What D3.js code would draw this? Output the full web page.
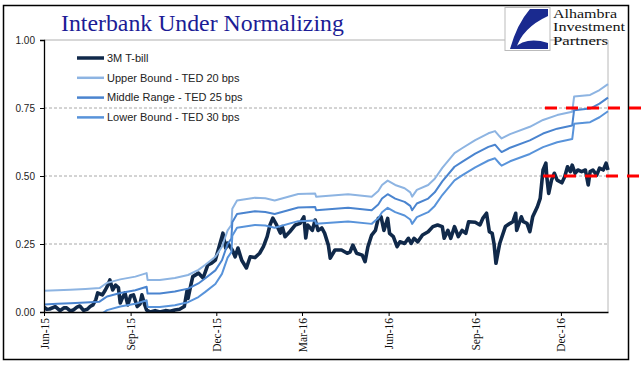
<!DOCTYPE html>
<html><head><meta charset="utf-8">
<script src="https://cdnjs.cloudflare.com/ajax/libs/d3/7.8.5/d3.min.js"></script>
<style>body{margin:0;background:#fff}svg{display:block}</style>
</head><body>
<script>
// ---- data ----
const boundDates = ["2015-06-01","2015-06-15","2015-06-29","2015-07-15","2015-07-30","2015-08-04","2015-08-07","2015-08-21","2015-09-06","2015-09-18","2015-09-19","2015-10-02","2015-10-18","2015-11-01","2015-11-12","2015-11-19","2015-11-30","2015-12-07","2015-12-13","2015-12-17","2015-12-18","2015-12-23","2016-01-11","2016-01-22","2016-02-01","2016-02-26","2016-03-15","2016-03-16","2016-04-19","2016-05-14","2016-05-18","2016-05-21","2016-05-25","2016-05-31","2016-06-08","2016-06-18","2016-06-24","2016-06-26","2016-07-01","2016-07-13","2016-07-20","2016-07-28","2016-08-10","2016-08-18","2016-09-01","2016-09-15","2016-09-22","2016-09-27","2016-09-29","2016-10-08","2016-10-29","2016-11-12","2016-11-27","2016-12-13","2016-12-15","2017-01-01","2017-01-11","2017-01-20"];
const upperBound = [0.078,0.080,0.082,0.085,0.088,0.100,0.107,0.120,0.130,0.143,0.118,0.118,0.125,0.136,0.155,0.173,0.203,0.240,0.300,0.320,0.380,0.410,0.420,0.418,0.410,0.434,0.436,0.424,0.433,0.424,0.436,0.445,0.467,0.483,0.467,0.455,0.440,0.424,0.449,0.467,0.490,0.530,0.584,0.602,0.632,0.657,0.665,0.645,0.638,0.654,0.681,0.706,0.724,0.736,0.792,0.798,0.816,0.838];
const middleRange = [0.028,0.030,0.032,0.035,0.038,0.050,0.057,0.070,0.080,0.093,0.068,0.068,0.075,0.086,0.105,0.123,0.153,0.190,0.250,0.270,0.330,0.360,0.370,0.368,0.360,0.384,0.386,0.374,0.383,0.374,0.386,0.395,0.417,0.433,0.417,0.405,0.390,0.374,0.399,0.417,0.440,0.480,0.534,0.552,0.582,0.607,0.615,0.595,0.588,0.604,0.631,0.656,0.674,0.686,0.742,0.748,0.766,0.788];
const lowerBound = [-0.022,-0.020,-0.018,-0.015,-0.012,0.000,0.007,0.020,0.030,0.043,0.018,0.018,0.025,0.036,0.055,0.073,0.103,0.140,0.200,0.220,0.280,0.310,0.320,0.318,0.310,0.334,0.336,0.324,0.333,0.324,0.336,0.345,0.367,0.383,0.367,0.355,0.340,0.324,0.349,0.367,0.390,0.430,0.484,0.502,0.532,0.557,0.565,0.545,0.538,0.554,0.581,0.606,0.624,0.636,0.692,0.698,0.716,0.738];

const tbillDates = ["2015-06-01","2015-06-04","2015-06-07","2015-06-13","2015-06-18","2015-06-22","2015-06-25","2015-06-29","2015-07-02","2015-07-06","2015-07-09","2015-07-13","2015-07-17","2015-07-20","2015-07-23","2015-07-26","2015-07-28","2015-08-02","2015-08-05","2015-08-07","2015-08-10","2015-08-13","2015-08-16","2015-08-19","2015-08-21","2015-08-23","2015-08-26","2015-08-29","2015-09-01","2015-09-04","2015-09-08","2015-09-11","2015-09-13","2015-09-16","2015-09-18","2015-09-22","2015-09-27","2015-10-02","2015-10-08","2015-10-13","2015-10-18","2015-10-23","2015-10-28","2015-10-31","2015-11-01","2015-11-04","2015-11-06","2015-11-12","2015-11-17","2015-11-22","2015-11-26","2015-11-30","2015-12-03","2015-12-07","2015-12-08","2015-12-11","2015-12-13","2015-12-18","2015-12-21","2015-12-24","2015-12-28","2016-01-02","2016-01-06","2016-01-11","2016-01-16","2016-01-20","2016-01-24","2016-01-27","2016-01-30","2016-02-03","2016-02-07","2016-02-09","2016-02-12","2016-02-17","2016-02-23","2016-02-28","2016-03-03","2016-03-05","2016-03-07","2016-03-12","2016-03-15","2016-03-18","2016-03-22","2016-03-25","2016-03-29","2016-03-31","2016-04-05","2016-04-12","2016-04-18","2016-04-21","2016-04-24","2016-04-28","2016-05-04","2016-05-07","2016-05-10","2016-05-14","2016-05-18","2016-05-21","2016-05-24","2016-05-27","2016-05-31","2016-06-02","2016-06-06","2016-06-10","2016-06-13","2016-06-18","2016-06-22","2016-06-25","2016-06-28","2016-07-02","2016-07-07","2016-07-13","2016-07-18","2016-07-23","2016-07-28","2016-07-30","2016-08-03","2016-08-06","2016-08-10","2016-08-14","2016-08-18","2016-08-22","2016-08-25","2016-09-01","2016-09-06","2016-09-09","2016-09-13","2016-09-16","2016-09-19","2016-09-21","2016-09-23","2016-09-27","2016-10-03","2016-10-08","2016-10-11","2016-10-14","2016-10-15","2016-10-20","2016-10-22","2016-10-26","2016-10-29","2016-11-01","2016-11-06","2016-11-09","2016-11-12","2016-11-15","2016-11-16","2016-11-18","2016-11-21","2016-11-24","2016-11-27","2016-12-02","2016-12-05","2016-12-08","2016-12-11","2016-12-13","2016-12-16","2016-12-19","2016-12-23","2016-12-27","2016-12-30","2017-01-01","2017-01-04","2017-01-08","2017-01-11","2017-01-15","2017-01-18","2017-01-20"];
const tbill = [0.018,0.010,0.011,0.020,0.005,0.015,0.015,0.004,0.007,0.018,0.022,0.006,0.010,0.020,0.026,0.045,0.070,0.063,0.080,0.093,0.118,0.081,0.099,0.090,0.033,0.050,0.070,0.026,0.060,0.063,0.020,0.030,0.063,0.026,0.007,0.000,0.005,0.000,0.005,0.003,0.007,0.010,0.020,0.080,0.050,0.100,0.130,0.143,0.125,0.173,0.180,0.191,0.228,0.277,0.290,0.235,0.253,0.228,0.203,0.235,0.190,0.162,0.203,0.200,0.216,0.240,0.277,0.320,0.345,0.320,0.290,0.314,0.277,0.295,0.320,0.326,0.350,0.272,0.320,0.300,0.338,0.300,0.309,0.290,0.246,0.198,0.228,0.228,0.216,0.220,0.246,0.216,0.209,0.185,0.240,0.283,0.300,0.344,0.350,0.300,0.344,0.289,0.277,0.240,0.258,0.252,0.271,0.252,0.271,0.258,0.283,0.295,0.314,0.320,0.314,0.271,0.300,0.271,0.314,0.277,0.300,0.289,0.332,0.330,0.320,0.344,0.363,0.295,0.289,0.250,0.179,0.252,0.314,0.326,0.332,0.363,0.300,0.350,0.332,0.326,0.295,0.350,0.387,0.418,0.522,0.547,0.497,0.436,0.485,0.510,0.485,0.475,0.497,0.534,0.516,0.540,0.510,0.522,0.516,0.522,0.467,0.516,0.522,0.503,0.529,0.522,0.547,0.522];

const yTicks = [0, 0.25, 0.5, 0.75, 1.0];
const xTickDates = ["2015-06-01","2015-09-01","2015-12-01","2016-03-01","2016-06-01","2016-09-01","2016-12-01"];
const targetLevels = [0.75, 0.50];
const seriesNames = ["3M T-bill","Upper Bound - TED 20 bps","Middle Range - TED 25 bps","Lower Bound - TED 30 bps"];
const seriesColors = ["#10294a","#8db4e2","#4a84cf","#5893da"];
const seriesWidths = [3.6, 2, 2, 2];
const titleText = "Interbank Under Normalizing";
const logoLines = ["Alhambra","Investment","Partners"];

// ---- chart ----
const W = 641, H = 375;
const svg = d3.select("body").append("svg").attr("width", W).attr("height", H);
svg.append("rect").attr("width", W).attr("height", H).attr("fill", "#fff");

const parse = d3.timeParse("%Y-%m-%d");
const x = d3.scaleTime().domain([parse("2015-06-01"), parse("2017-01-20")]).range([44, 608]);
const y = d3.scaleLinear().domain([0, 1]).range([312, 40]);

// frame
svg.append("rect").attr("x", 3.5).attr("y", 5.5).attr("width", 625).attr("height", 354)
  .attr("fill", "none").attr("stroke", "#000").attr("stroke-width", 1.5);

// gridlines
svg.append("g").selectAll("line").data(yTicks.filter(d => d > 0 && d < 1)).join("line")
  .attr("x1", 44).attr("x2", 608).attr("y1", d => y(d)).attr("y2", d => y(d))
  .attr("stroke", "#a8a8a8").attr("stroke-width", 1).attr("stroke-dasharray", "3,2");
svg.append("line").attr("x1", 44).attr("x2", 608).attr("y1", y(1)).attr("y2", y(1)).attr("stroke", "#b0b0b0");
svg.append("line").attr("x1", 608).attr("x2", 608).attr("y1", y(1)).attr("y2", y(0)).attr("stroke", "#b8b8b8");

// clip
svg.append("clipPath").attr("id", "clip").append("rect").attr("x", 44).attr("y", 38).attr("width", 566).attr("height", 274);

const boundData = [upperBound, middleRange, lowerBound].map(arr => arr.map((v, i) => ({d: parse(boundDates[i]), v})));
const tbillData = tbill.map((v, i) => ({d: parse(tbillDates[i]), v}));
const line = d3.line().x(p => x(p.d)).y(p => y(p.v));
const allSeries = [tbillData, ...boundData];
const gl = svg.append("g").attr("clip-path", "url(#clip)");
allSeries.forEach((s, i) => {
  gl.append("path").datum(s).attr("d", line).attr("fill", "none")
    .attr("stroke", seriesColors[i]).attr("stroke-width", seriesWidths[i]).attr("stroke-linejoin", "round");
});

// axes
const yAxis = d3.axisLeft(y).tickValues(yTicks).tickFormat(d3.format(".2f")).tickSize(4).tickPadding(5);
const gy = svg.append("g").attr("transform", "translate(44,0)").call(yAxis);
gy.select(".domain").attr("stroke", "#000").attr("stroke-width", 1.3);
gy.selectAll(".tick line").attr("stroke", "#000");
gy.selectAll("text").attr("font-family", "'Liberation Sans', Arial, sans-serif").attr("font-size", 10).attr("fill", "#222");

const xAxis = d3.axisBottom(x).tickValues(xTickDates.map(parse)).tickFormat(d3.timeFormat("%b-%y")).tickSize(4).tickSizeOuter(0);
const gx = svg.append("g").attr("transform", "translate(0,312)").call(xAxis);
gx.select(".domain").attr("stroke", "#000").attr("stroke-width", 1.3);
gx.selectAll(".tick line").attr("stroke", "#000");
gx.selectAll("text").attr("font-family", "'Liberation Serif', 'Times New Roman', serif").attr("font-size", 11.5).attr("fill", "#111")
  .attr("transform", "rotate(-90)").attr("text-anchor", "end").attr("x", -6).attr("y", 0).attr("dy", "0.35em");

// legend
const lg = svg.append("g");
seriesNames.forEach((n, i) => {
  const ly = 58 + i * 19.8;
  lg.append("line").attr("x1", 77).attr("x2", 104).attr("y1", ly).attr("y2", ly)
    .attr("stroke", seriesColors[i]).attr("stroke-width", i === 0 ? 3.5 : 2.5);
  lg.append("text").attr("x", 107).attr("y", ly).attr("dy", "0.35em").text(n)
    .attr("font-family", "'Liberation Sans', Arial, sans-serif").attr("font-size", 11).attr("fill", "#222");
});

// title
svg.append("text").attr("x", 61).attr("y", 31).text(titleText)
  .attr("font-family", "'Liberation Serif', 'Times New Roman', serif").attr("font-size", 23.8).attr("fill", "#1c1c96");

// logo
const logo = svg.append("g");
logo.append("rect").attr("x", 505).attr("y", 7.5).attr("width", 45).attr("height", 43).attr("fill", "#fff").attr("stroke", "#bbb");
logo.append("path").attr("d", "M548,9 L530,9 Q517,24 510,49 L516,49 Q522,28 548,16 Z").attr("fill", "#1a2a8f");
logo.append("path").attr("d", "M513,49 Q526,36 548,43 L548,49 Z").attr("fill", "#1a2a8f");
const logoWidths = [64, 72, 55];
logoLines.forEach((t, i) => {
  logo.append("text").attr("x", 553).attr("y", 17.5 + i * 13.6).text(t)
    .attr("font-family", "'Liberation Serif', 'Times New Roman', serif")
    .attr("font-size", 11.6).attr("fill", "#111")
    .attr("textLength", logoWidths[i]).attr("lengthAdjust", "spacingAndGlyphs");
});

// red target lines
svg.append("g").selectAll("line").data(targetLevels).join("line")
  .attr("x1", (d, i) => i === 0 ? 545 : 543).attr("x2", 641)
  .attr("y1", d => y(d)).attr("y2", d => y(d))
  .attr("stroke", "#ff0000").attr("stroke-width", 3).attr("stroke-dasharray", "12,9");
</script>
</body></html>
